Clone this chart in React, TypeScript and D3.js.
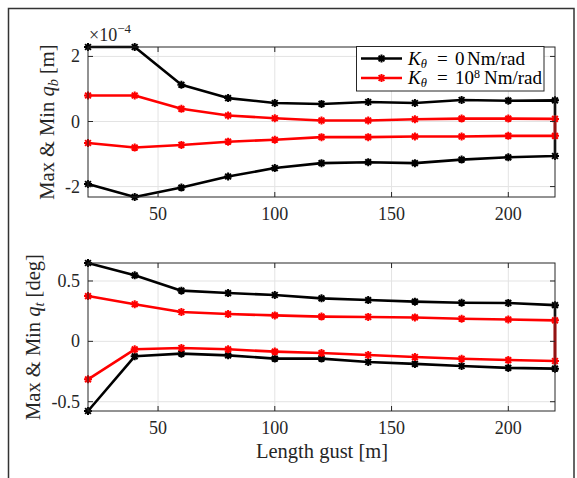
import React from "react";
import * as d3 from "d3";

const gustLength = [20, 40, 60, 80, 100, 120, 140, 160, 180, 200, 220];

// top panel q_b (x 1e-4 m)
const qbMaxK0 = [2.29, 2.29, 1.13, 0.72, 0.57, 0.54, 0.6, 0.57, 0.66, 0.64, 0.65];
const qbMinK0 = [-1.92, -2.32, -2.03, -1.69, -1.43, -1.28, -1.25, -1.28, -1.17, -1.1, -1.06];
const qbMaxK8 = [0.8, 0.8, 0.39, 0.185, 0.1, 0.03, 0.03, 0.07, 0.09, 0.09, 0.08];
const qbMinK8 = [-0.66, -0.8, -0.72, -0.62, -0.56, -0.48, -0.48, -0.46, -0.46, -0.44, -0.44];

// bottom panel q_t (deg)
const qtMaxK0 = [0.649, 0.547, 0.42, 0.4, 0.384, 0.356, 0.342, 0.329, 0.32, 0.318, 0.3];
const qtMinK0 = [-0.577, -0.124, -0.102, -0.116, -0.143, -0.143, -0.171, -0.187, -0.204, -0.22, -0.226];
const qtMaxK8 = [0.375, 0.307, 0.243, 0.226, 0.215, 0.205, 0.202, 0.198, 0.187, 0.181, 0.174];
const qtMinK8 = [-0.315, -0.066, -0.055, -0.066, -0.085, -0.097, -0.113, -0.13, -0.144, -0.155, -0.163];

const xTicks = [50, 100, 150, 200];
const qbTicks = [-2, 0, 2];
const qtTicks = [-0.5, 0, 0.5];

const FONT = "'Liberation Serif', 'Times New Roman', serif";
const AX = "#262626";
const GRID = "#e3e3e3";

const left = 88;
const right = 555;

const x = d3.scaleLinear().domain([20, 220]).range([left, right]);

function star(cx: number, cy: number, r: number) {
  const d = r * 0.72;
  return `M${cx - r},${cy}L${cx + r},${cy}M${cx},${cy - r}L${cx},${cy + r}M${cx - d},${cy - d}L${cx + d},${cy + d}M${cx - d},${cy + d}L${cx + d},${cy - d}`;
}

function Panel({
  top,
  bottom,
  series,
  ticks,
  fmt,
}: {
  top: number;
  bottom: number;
  series: { max: number[]; min: number[]; color: string }[];
  ticks: number[];
  fmt: (v: number) => string;
}) {
  const all = series.flatMap((s) => [...s.max, ...s.min]);
  const ext = d3.extent(all) as [number, number];
  const y = d3.scaleLinear().domain(ext).range([bottom, top]);
  const line = d3
    .line<[number, number]>()
    .x((d) => x(d[0]))
    .y((d) => y(d[1]));
  return (
    <g>
      {xTicks.map((t) => (
        <line key={"gx" + t} x1={x(t)} x2={x(t)} y1={top} y2={bottom} stroke={GRID} strokeWidth={1} />
      ))}
      {ticks.map((t) => (
        <line key={"gy" + t} x1={left} x2={right} y1={y(t)} y2={y(t)} stroke={GRID} strokeWidth={1} />
      ))}
      {series.map((s, i) => {
        const pts: [number, number][] = [
          ...gustLength.map((g, j) => [g, s.max[j]] as [number, number]),
          ...gustLength
            .map((g, j) => [g, s.min[j]] as [number, number])
            .reverse(),
        ];
        return (
          <g key={i}>
            <path d={line(pts) || ""} fill="none" stroke={s.color} strokeWidth={2.6} strokeLinejoin="round" />
            {pts.map((p, k) => (
              <path key={k} d={star(x(p[0]), y(p[1]), 4)} stroke={s.color} strokeWidth={2} fill="none" />
            ))}
          </g>
        );
      })}
      <rect x={left} y={top} width={right - left} height={bottom - top} fill="none" stroke={AX} strokeWidth={1} />
      {xTicks.map((t) => (
        <g key={"tx" + t}>
          <line x1={x(t)} x2={x(t)} y1={bottom} y2={bottom - 5} stroke={AX} />
          <line x1={x(t)} x2={x(t)} y1={top} y2={top + 5} stroke={AX} />
          <text x={x(t)} y={bottom + 23} textAnchor="middle" fontSize={18} fontFamily={FONT} fill={AX}>
            {t}
          </text>
        </g>
      ))}
      {ticks.map((t) => (
        <g key={"ty" + t}>
          <line x1={left} x2={left + 5} y1={y(t)} y2={y(t)} stroke={AX} />
          <line x1={right} x2={right - 5} y1={y(t)} y2={y(t)} stroke={AX} />
          <text x={80} y={y(t) + 6} textAnchor="end" fontSize={18} fontFamily={FONT} fill={AX}>
            {fmt(t)}
          </text>
        </g>
      ))}
    </g>
  );
}

const legendRows = [
  { c: "#000", y: 58.5, sup: "", val: "0", nm: 467 },
  { c: "#ff0000", y: 78, sup: "8", val: "10", nm: 484 },
];

export default function App() {
  const fmt = (v: number) => (v < 0 ? "-" + String(-v) : String(v));
  return (
    <svg width={577} height={478} style={{ position: "absolute", left: 0, top: 0 }}>
      <rect x={0} y={0} width={577} height={478} fill="#fff" />
      <rect x={8.5} y={8.5} width={565.5} height={500} fill="#fff" stroke="#333" strokeWidth={1.5} />
      <Panel
        top={47}
        bottom={197}
        ticks={qbTicks}
        fmt={fmt}
        series={[
          { max: qbMaxK0, min: qbMinK0, color: "#000" },
          { max: qbMaxK8, min: qbMinK8, color: "#ff0000" },
        ]}
      />
      <Panel
        top={263}
        bottom={411}
        ticks={qtTicks}
        fmt={fmt}
        series={[
          { max: qtMaxK0, min: qtMinK0, color: "#000" },
          { max: qtMaxK8, min: qtMinK8, color: "#ff0000" },
        ]}
      />
      {/* exponent */}
      <text x={89} y={41} fontSize={18} fontFamily={FONT} fill={AX}>
        ×10
        <tspan dy={-8} fontSize={13}>−4</tspan>
      </text>
      {/* y labels */}
      <text transform="translate(54,122) rotate(-90)" textAnchor="middle" fontSize={20.5} fontFamily={FONT} fill={AX}>
        Max &amp; Min <tspan fontStyle="italic">q</tspan>
        <tspan fontSize={14.5} fontStyle="italic" dy={4}>b</tspan>
        <tspan dy={-4}> [m]</tspan>
      </text>
      <text transform="translate(40,337) rotate(-90)" textAnchor="middle" fontSize={20.5} fontFamily={FONT} fill={AX}>
        Max &amp; Min <tspan fontStyle="italic">q</tspan>
        <tspan fontSize={14.5} fontStyle="italic" dy={4}>t</tspan>
        <tspan dy={-4}> [deg]</tspan>
      </text>
      {/* x label */}
      <text x={322} y={458} textAnchor="middle" fontSize={20.5} fontFamily={FONT} fill={AX}>
        Length gust [m]
      </text>
      {/* legend */}
      <g>
        <rect x={356.5} y={46.5} width={187.5} height={44.5} fill="#fff" stroke={AX} strokeWidth={1} />
        {legendRows.map((r, i) => (
          <g key={i}>
            <line x1={361} x2={402} y1={r.y} y2={r.y} stroke={r.c} strokeWidth={2.6} />
            <path d={star(381.5, r.y, 4)} stroke={r.c} strokeWidth={2} />
            <text y={r.y + 6} fontSize={19} fontFamily={FONT} fill="#000">
              <tspan x={408} fontStyle="italic">K</tspan>
              <tspan fontStyle="italic" fontSize={12.5} dy={3}>θ</tspan>
              <tspan x={437} dy={-3}>=</tspan>
              <tspan x={455}>{r.val}</tspan>
              {r.sup ? (
                <tspan dy={-6} fontSize={12}>{r.sup}</tspan>
              ) : null}
              <tspan x={r.nm} dy={r.sup ? 6 : 0}>Nm/rad</tspan>
            </text>
          </g>
        ))}
      </g>
    </svg>
  );
}
